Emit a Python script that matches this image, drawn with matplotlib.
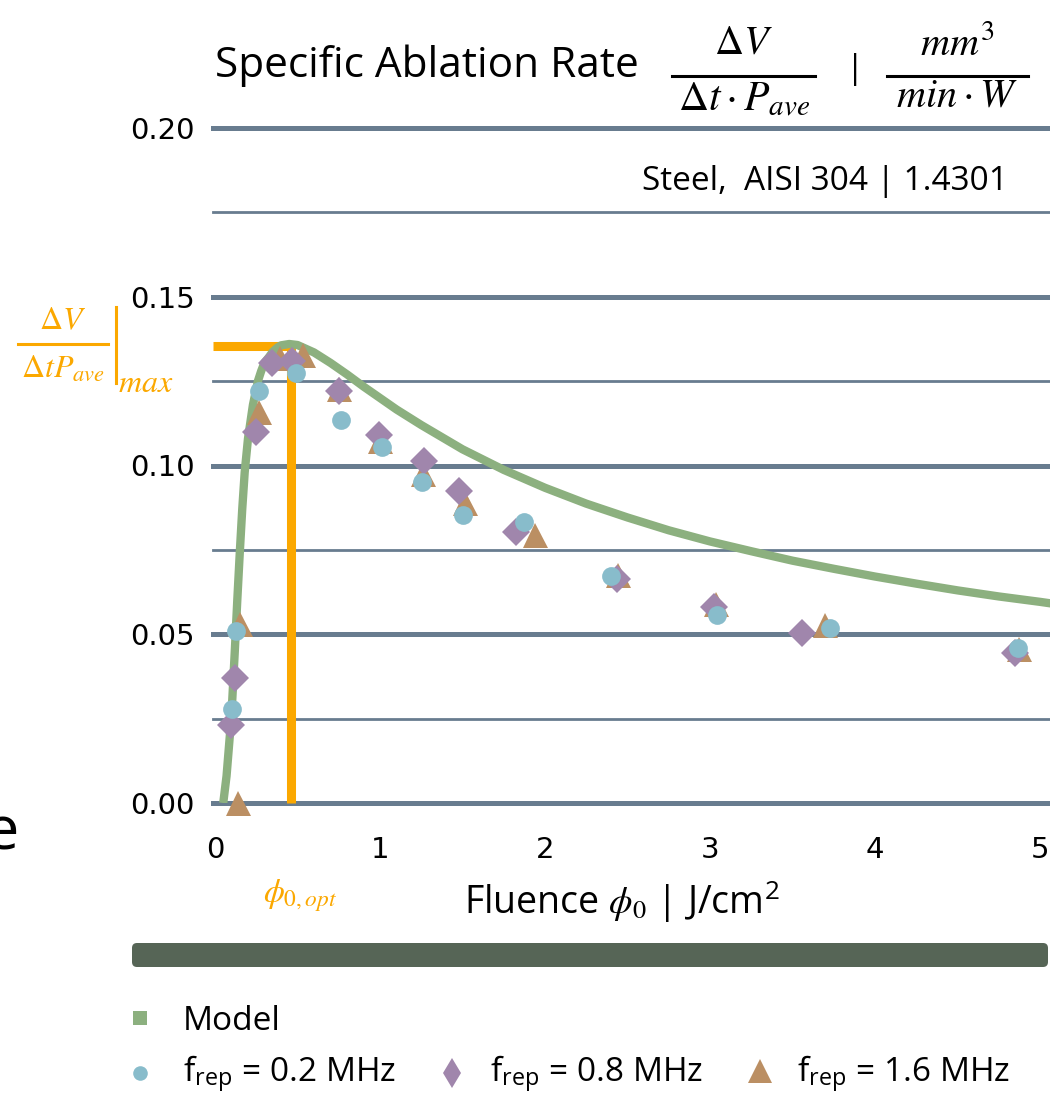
import matplotlib
matplotlib.use("Agg")
import matplotlib.pyplot as plt
from matplotlib.patches import FancyBboxPatch

plt.rcParams['font.family'] = ['Open Sans', 'DejaVu Sans']
plt.rcParams['mathtext.fontset'] = 'stix'

# ---------------- data ----------------
model_x = [0.05, 0.07, 0.09, 0.103, 0.12, 0.135, 0.15, 0.165, 0.18, 0.20, 0.23, 0.26, 0.28, 0.30,
           0.325, 0.35, 0.38, 0.40, 0.45, 0.50, 0.60, 0.70, 0.80, 0.90, 1.00, 1.10, 1.25,
           1.50, 1.75, 2.00, 2.25, 2.50, 2.75, 3.00, 3.25, 3.50, 3.75, 4.00, 4.25,
           4.50, 4.75, 5.00, 5.10]
model_y = [0.000, 0.008, 0.020, 0.029, 0.045, 0.060, 0.074, 0.087, 0.098, 0.108, 0.118, 0.125, 0.128, 0.1305,
           0.132, 0.1337, 0.135, 0.1356, 0.136, 0.1357, 0.1335, 0.1304, 0.127, 0.1234, 0.120, 0.1166, 0.112,
           0.1048, 0.0987, 0.0934, 0.0887, 0.0846, 0.0808, 0.0775, 0.0746, 0.0718, 0.0694, 0.0671, 0.0650,
           0.0630, 0.0612, 0.0596, 0.0589]

f02_x = [0.103, 0.127, 0.267, 0.491, 0.764, 1.012, 1.255, 1.503, 1.873, 2.400, 3.042, 3.727, 4.867]
f02_y = [0.028, 0.0509, 0.122, 0.1275, 0.1136, 0.1056, 0.0950, 0.0852, 0.0834, 0.0672, 0.0556, 0.0518, 0.0459]

f08_x = [0.097, 0.121, 0.248, 0.345, 0.467, 0.752, 0.994, 1.267, 1.479, 1.824, 2.436, 3.024, 3.557, 4.848]
f08_y = [0.0231, 0.037, 0.110, 0.1305, 0.131, 0.1222, 0.1089, 0.1012, 0.0923, 0.0802, 0.0663, 0.058, 0.0503, 0.0444]

f16_x = [0.139, 0.152, 0.267, 0.394, 0.533, 0.752, 1.000, 1.261, 1.515, 1.940, 2.442, 3.036, 3.697, 4.873]
f16_y = [0.000, 0.053, 0.116, 0.132, 0.1328, 0.1228, 0.1074, 0.0976, 0.0888, 0.0793, 0.0675, 0.0589, 0.0527, 0.0456]

opt_x = 0.46
opt_y = 0.1355

y_ticks = [0.00, 0.05, 0.10, 0.15, 0.20]
y_ticklabels = ['0.00', '0.05', '0.10', '0.15', '0.20']
minor_grid = [0.025, 0.075, 0.125, 0.175]
x_ticks = [0, 1, 2, 3, 4, 5]
x_ticklabels = ['0', '1', '2', '3', '4', '5']

legend_labels = ['Model', r'f$_{\mathregular{rep}}$ = 0.2 MHz', r'f$_{\mathregular{rep}}$ = 0.8 MHz',
                 r'f$_{\mathregular{rep}}$ = 1.6 MHz']

# ---------------- colours ----------------
c_grid = '#687c8f'
c_model = '#8cb07f'
c_orange = '#fba800'
c_c = '#88bccb'
c_d = '#a086ac'
c_t = '#bb8f63'
c_bar = '#566556'

W, H = 1050, 1093
fig = plt.figure(figsize=(W / 100, H / 100), dpi=100)

x_left_px, x_right_px = 213, 1050
y_bot_px, y_top_px = 803, 128
ppu_x = 165.0
xmin = (x_left_px - 215) / ppu_x
xmax = (x_right_px - 215) / ppu_x
ax = fig.add_axes([x_left_px / W, 1 - y_bot_px / H,
                   (x_right_px - x_left_px) / W, (y_bot_px - y_top_px) / H])
ax.set_xlim(xmin, xmax)
ax.set_ylim(0, 0.20)
for s in ax.spines.values():
    s.set_visible(False)
ax.patch.set_alpha(0)

for v in y_ticks:
    ax.axhline(v, color=c_grid, lw=3.6, zorder=1, clip_on=False)
for v in minor_grid:
    ax.axhline(v, color=c_grid, lw=2.0, zorder=1, clip_on=False)

ax.set_yticks(y_ticks)
ax.set_yticklabels(y_ticklabels, family='DejaVu Sans')
ax.set_xticks(x_ticks)
ax.set_xticklabels(x_ticklabels, family='DejaVu Sans')
ax.tick_params(axis='y', length=0, pad=13, labelsize=21)
ax.tick_params(axis='x', length=0, pad=24, labelsize=21)

# optimum lines
ax.plot([xmin, opt_x], [opt_y, opt_y], color=c_orange, lw=6.5, zorder=2,
        solid_capstyle='butt', clip_on=False)
ax.plot([opt_x, opt_x], [0, opt_y], color=c_orange, lw=6.5, zorder=2,
        solid_capstyle='butt', clip_on=False)

# model
ax.plot(model_x, model_y, color=c_model, lw=6, zorder=3, clip_on=True,
        solid_capstyle='butt', solid_joinstyle='round')

# data
ax.plot(f16_x, f16_y, ls='none', marker='^', ms=18, color=c_t, mew=0, zorder=4, clip_on=False)
ax.plot(f08_x, f08_y, ls='none', marker='D', ms=14, color=c_d, mew=0, zorder=5, clip_on=False)
ax.plot(f02_x, f02_y, ls='none', marker='o', ms=13.5, color=c_c, mew=0, zorder=6, clip_on=False)

# ---------------- overlay in pixel coords ----------------
ov = fig.add_axes([0, 0, 1, 1], zorder=-1)
ov.set_xlim(0, W)
ov.set_ylim(H, 0)
ov.axis('off')

# title
ov.text(215, 66, 'Specific Ablation Rate', fontsize=30.5, ha='left', va='center')
ov.text(743, 43, r'$\Delta V$', fontsize=29, ha='center', va='center')
ov.plot([672, 815], [76, 76], color='black', lw=2.2)
ov.text(744, 100, r'$\Delta t\cdot P_{ave}$', fontsize=30, ha='center', va='center')
ov.text(855, 70, '|', fontsize=24, ha='center', va='center')
ov.text(957, 45, r'$mm^3$', fontsize=29, ha='center', va='center')
ov.plot([887, 1028], [76, 76], color='black', lw=2.2)
ov.text(957, 96, r'$min\cdot W$', fontsize=29, ha='center', va='center')

ov.text(1008, 182, 'Steel,  AISI 304 | 1.4301', fontsize=24, ha='right', va='center')

# orange y-annotation
ov.text(63, 321, r'$\Delta V$', fontsize=23, ha='center', va='center', color=c_orange)
ov.plot([18, 108], [344, 344], color=c_orange, lw=2.2)
ov.text(63, 368, r'$\Delta t P_{ave}$', fontsize=23, ha='center', va='center', color=c_orange)
ov.plot([116, 116], [307, 383], color=c_orange, lw=2.2)
ov.text(146, 384, r'$max$', fontsize=23, ha='center', va='center', color=c_orange)

ov.text(300, 896, r'$\phi_{0,opt}$', fontsize=24, ha='center', va='center', color=c_orange)

# x label
ov.text(622, 902, r'Fluence $\phi_0$ | J/cm$^{\mathregular{2}}$', fontsize=27, ha='center', va='center')

# cut-off text at left
ov.text(19, 850, 'e', fontsize=44, ha='right', va='baseline')

# dark bar
ov.add_patch(FancyBboxPatch((132, 943), 916, 24,
                            boxstyle='round,pad=0,rounding_size=5',
                            facecolor=c_bar, edgecolor='none'))

# legend
ov.plot([140], [1018], marker='s', ms=10.5, color=c_model, mew=0, ls='none')
ov.text(183, 1022, legend_labels[0], fontsize=24, ha='left', va='center')
ov.plot([140], [1073], marker='o', ms=10.5, color=c_c, mew=0, ls='none')
ov.text(183, 1074, legend_labels[1], fontsize=24, ha='left', va='center')
ov.plot([452], [1073], marker='d', ms=15, color=c_d, mew=0, ls='none')
ov.text(490, 1074, legend_labels[2], fontsize=24, ha='left', va='center')
ov.plot([760], [1071], marker='^', ms=17, color=c_t, mew=0, ls='none')
ov.text(797, 1074, legend_labels[3], fontsize=24, ha='left', va='center')

fig.savefig('out.png', dpi=100)
